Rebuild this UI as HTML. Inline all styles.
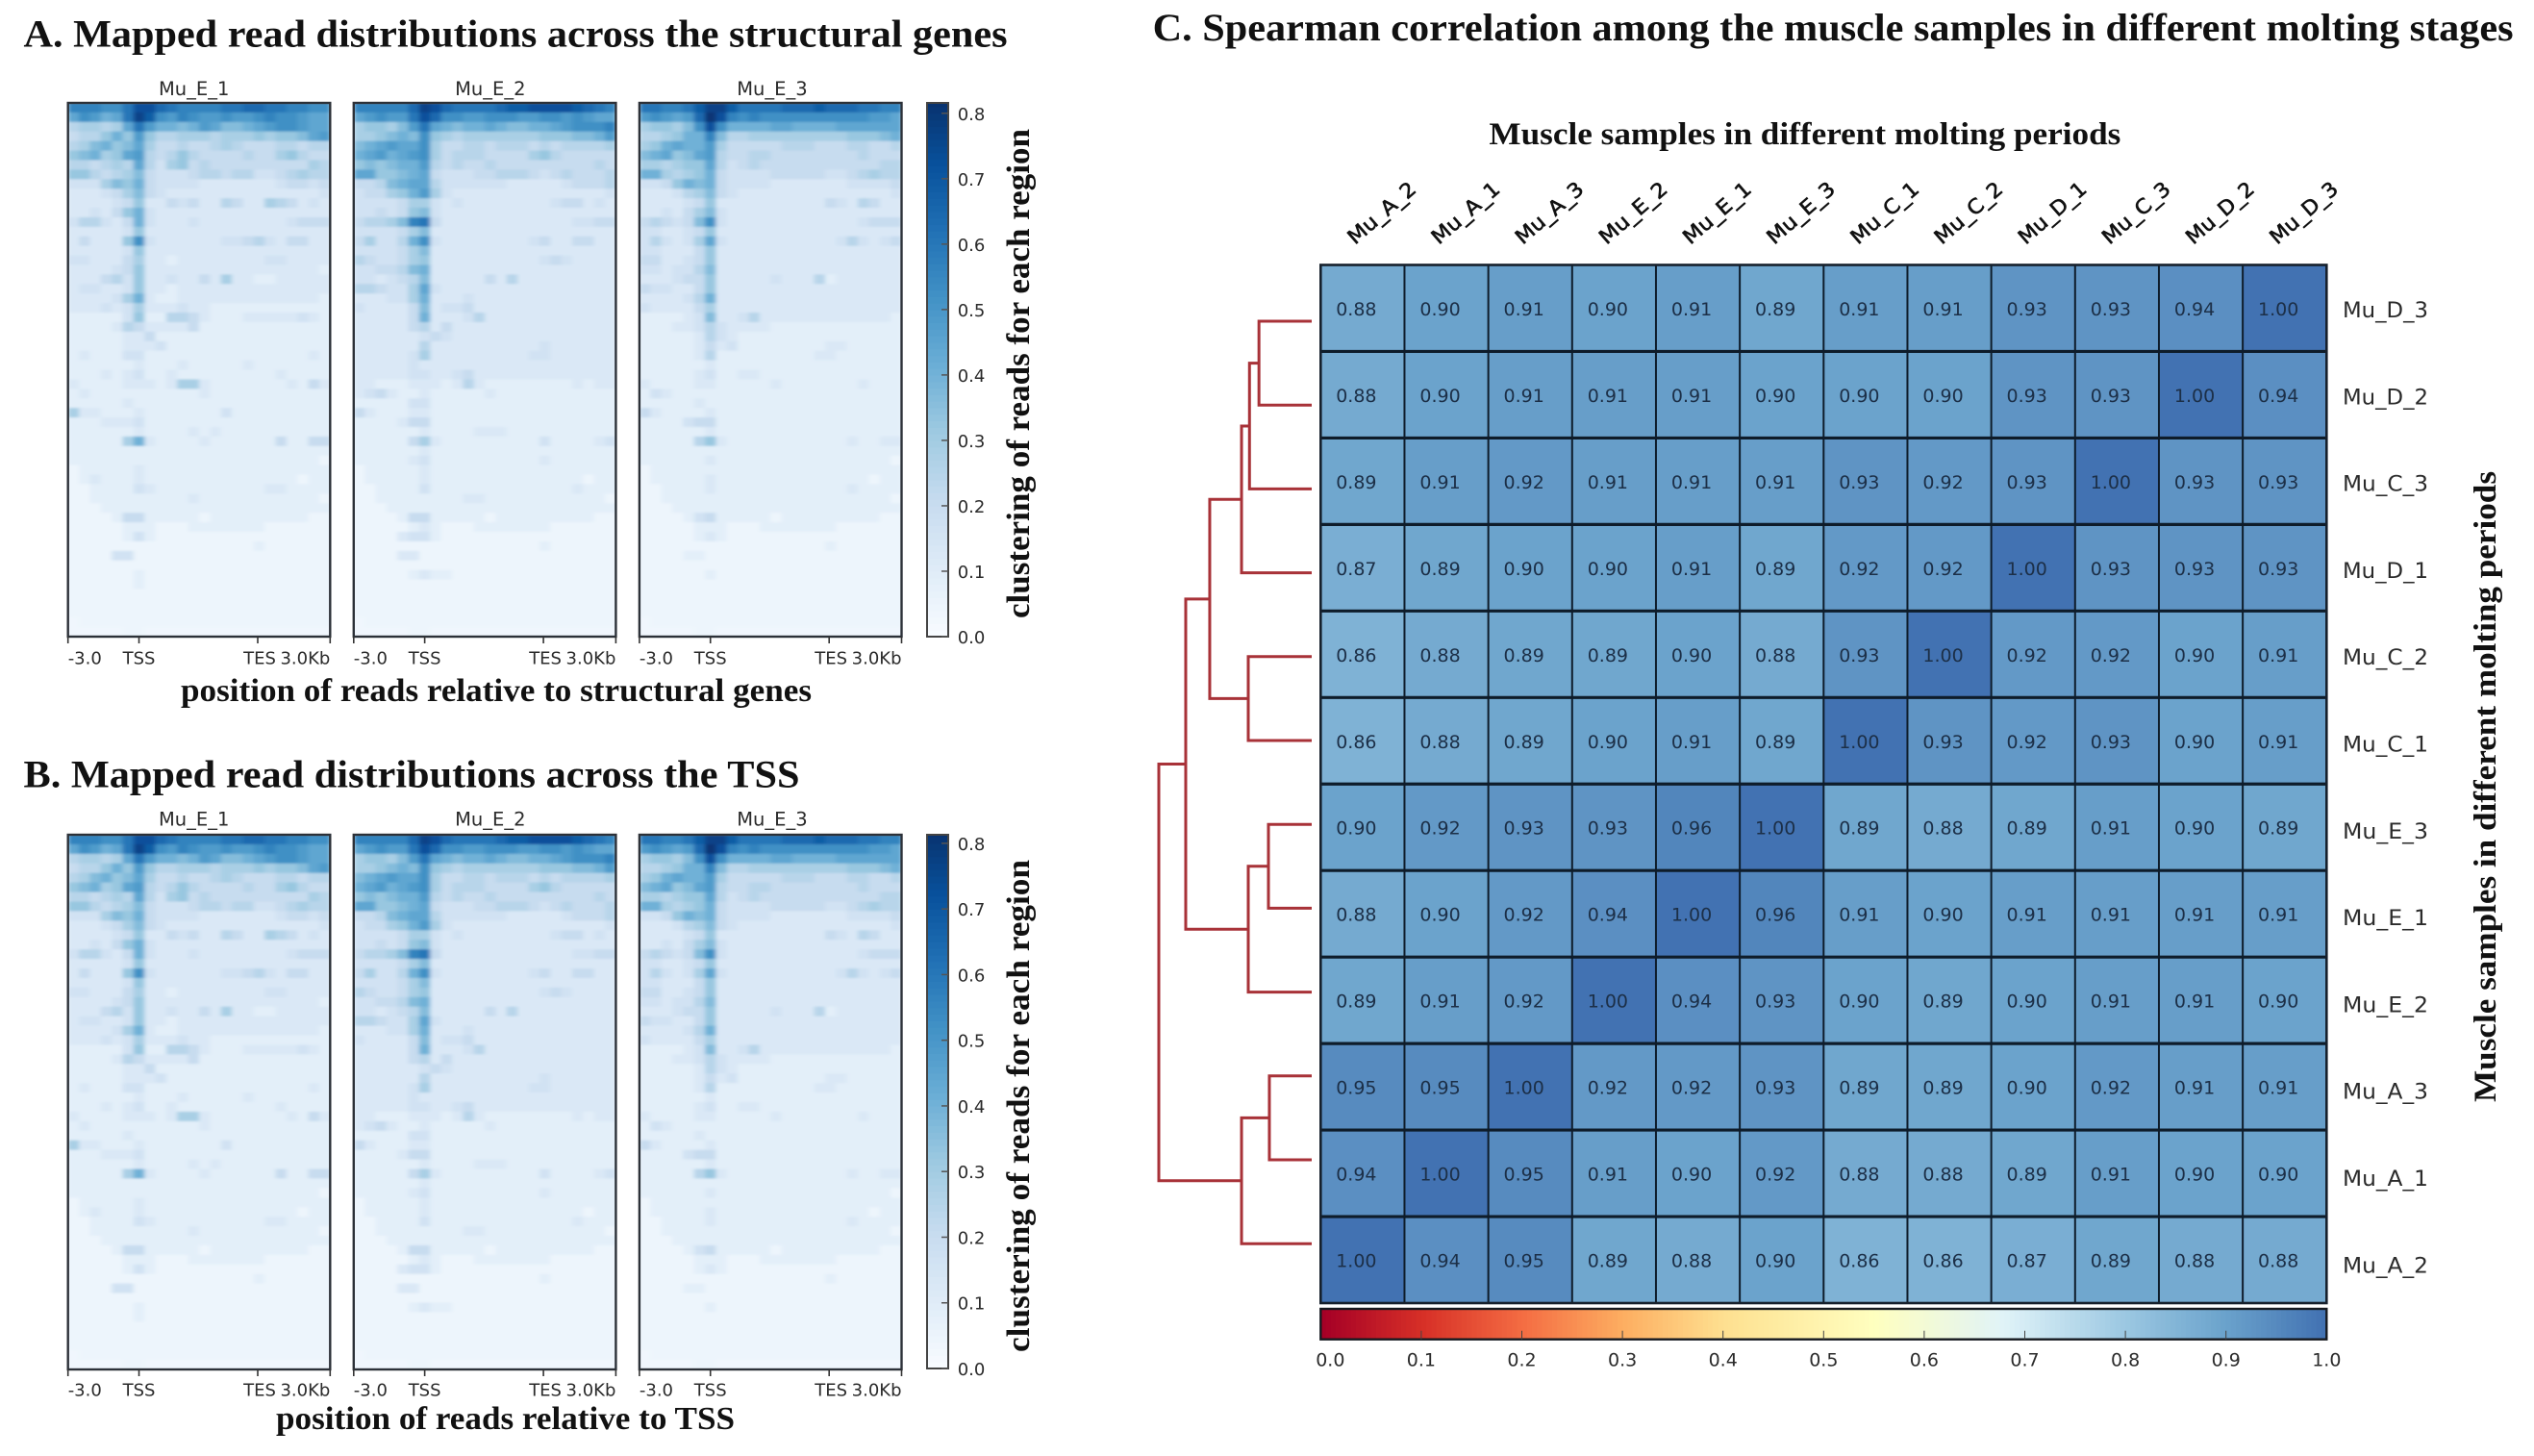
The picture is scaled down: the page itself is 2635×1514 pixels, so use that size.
<!DOCTYPE html>
<html lang="en">
<head>
<meta charset="utf-8">
<title>Mapped read distributions and Spearman correlation</title>
<style>
html,body{margin:0;padding:0;background:#fff;}
svg{display:block;}
.serif{font-family:"Liberation Serif",serif;font-weight:bold;fill:#111;}
.sans{font-family:"DejaVu Sans",sans-serif;fill:#2b2b2b;}
</style>
</head>
<body>
<svg id="fig" xmlns="http://www.w3.org/2000/svg" width="2635" height="1514" viewBox="0 0 2635 1514">
<defs>
<filter id="soft" x="-2%" y="-2%" width="104%" height="104%"><feGaussianBlur stdDeviation="2.5 1"/></filter>
<clipPath id="clip-a1"><rect x="70.7" y="107" width="272.6" height="555"/></clipPath>
<clipPath id="clip-a2"><rect x="367.8" y="107" width="272.6" height="555"/></clipPath>
<clipPath id="clip-a3"><rect x="664.9" y="107" width="272.6" height="555"/></clipPath>
<clipPath id="clip-b1"><rect x="70.7" y="868" width="272.6" height="556"/></clipPath>
<clipPath id="clip-b2"><rect x="367.8" y="868" width="272.6" height="556"/></clipPath>
<clipPath id="clip-b3"><rect x="664.9" y="868" width="272.6" height="556"/></clipPath>
</defs>
<text class="serif" x="24.5" y="48.5" font-size="40" textLength="1023" lengthAdjust="spacingAndGlyphs">A. Mapped read distributions across the structural genes</text>
<text class="serif" x="188" y="729" font-size="34" textLength="656" lengthAdjust="spacingAndGlyphs">position of reads relative to structural genes</text>
<text class="serif" transform="translate(1070,643) rotate(-90)" font-size="34" textLength="509" lengthAdjust="spacingAndGlyphs">clustering of reads for each region</text>
<text class="serif" x="24.5" y="818.7" font-size="40" textLength="807" lengthAdjust="spacingAndGlyphs">B. Mapped read distributions across the TSS</text>
<text class="serif" x="287" y="1486" font-size="34" textLength="477" lengthAdjust="spacingAndGlyphs">position of reads relative to TSS</text>
<text class="serif" transform="translate(1070,1406) rotate(-90)" font-size="34" textLength="512" lengthAdjust="spacingAndGlyphs">clustering of reads for each region</text>
<text class="serif" x="1198.6" y="42" font-size="40" textLength="1415" lengthAdjust="spacingAndGlyphs">C. Spearman correlation among the muscle samples in different molting stages</text>
<text class="serif" x="1548.4" y="150" font-size="33" textLength="657" lengthAdjust="spacingAndGlyphs">Muscle samples in different molting periods</text>
<text class="serif" transform="translate(2595,1146) rotate(-90)" font-size="33" textLength="656" lengthAdjust="spacingAndGlyphs">Muscle samples in different molting periods</text>
<g id="layer"></g>
</svg>
<script>
/* Read-density profile heatmaps: values in units of 0.04, 56 rows x 24 bins (TSS = bin 6) */
var sampleTitles = ['Mu_E_1', 'Mu_E_2', 'Mu_E_3'];
var profileTicks = ['-3.0', 'TSS', 'TES', '3.0Kb'];
var profileTickBins = [0, 6.5, 17.37, 24];
var densityTicks = [0, 0.1, 0.2, 0.3, 0.4, 0.5, 0.6, 0.7, 0.8];
var densityE1 = [
[14,14,14,13,13,15,18,18,16,15,14,14,14,14,15,15,16,16,15,15,14,14,13,13],
[11,13,12,10,11,15,19,17,13,12,14,13,12,12,13,12,12,13,14,13,13,12,11,11],
[6,7,7,6,7,11,15,12,10,10,9,10,12,11,9,9,10,11,12,13,13,12,11,11],
[5,6,6,8,10,8,12,8,6,6,7,7,7,6,7,7,7,8,7,8,8,9,11,12],
[6,7,9,10,8,9,11,7,5,5,6,5,5,6,7,6,5,5,5,6,6,5,6,6],
[8,9,10,7,8,11,12,6,5,6,8,6,5,5,5,5,6,5,5,7,8,6,5,5],
[6,6,5,6,7,6,11,6,4,7,8,5,6,5,5,5,5,5,5,5,5,5,7,6],
[8,8,6,5,6,7,9,5,4,4,4,5,6,6,5,6,6,4,4,5,6,7,6,6],
[4,4,4,7,9,8,10,5,4,4,4,4,3,3,3,3,3,3,3,4,5,5,4,5],
[3,3,3,4,5,7,9,5,4,3,3,3,3,3,3,3,3,3,3,3,3,3,3,4],
[3,3,3,3,4,5,8,3,3,5,4,5,3,3,6,5,3,3,7,6,5,3,4,3],
[3,3,4,3,5,8,10,4,3,3,3,3,3,3,3,3,3,3,3,3,3,3,3,3],
[4,6,6,4,3,5,10,4,3,3,3,4,3,3,3,3,3,3,3,3,4,5,5,5],
[3,3,3,3,3,4,8,3,3,3,3,3,3,3,3,3,3,3,3,3,3,3,3,3],
[3,5,3,3,3,8,13,4,3,3,3,3,3,3,4,4,5,6,4,3,5,5,3,3],
[3,3,3,3,3,4,8,3,3,3,3,3,3,3,3,3,3,3,3,3,3,3,3,3],
[4,4,3,3,3,5,7,3,3,2,3,3,3,3,3,3,3,3,4,4,3,3,3,3],
[3,3,3,3,4,5,8,3,3,3,3,3,3,3,3,3,3,3,3,3,3,3,3,2],
[3,3,3,5,6,4,8,3,3,4,3,3,5,3,7,3,3,2,2,3,3,3,3,3],
[3,4,4,3,3,4,8,3,3,2,3,3,3,3,3,3,3,3,3,3,3,3,3,3],
[3,3,3,3,4,7,10,3,2,2,3,3,3,3,3,3,3,3,3,3,3,3,3,2],
[3,3,3,4,3,4,7,3,3,3,4,3,3,2,2,2,2,2,2,2,2,2,2,2],
[2,2,2,2,2,4,8,2,2,6,6,5,3,2,2,2,3,3,3,3,3,4,3,2],
[2,2,2,2,3,6,5,3,3,3,3,5,2,2,2,2,2,2,2,2,2,2,2,2],
[2,2,2,2,2,3,3,5,2,2,2,2,2,2,2,2,2,2,2,2,2,2,2,2],
[2,2,2,2,2,3,3,3,4,2,2,2,2,2,2,2,2,2,2,2,2,2,2,2],
[2,3,2,2,2,4,4,2,2,2,2,2,2,2,2,2,2,2,2,2,2,2,3,2],
[2,2,2,2,2,2,3,2,2,2,3,2,2,2,2,2,3,2,2,2,2,2,2,2],
[2,2,2,3,2,3,4,2,2,3,2,2,2,2,2,2,2,2,2,3,2,2,2,2],
[3,2,2,2,2,3,3,3,2,3,7,7,3,2,2,2,2,2,2,2,3,2,5,3],
[2,3,2,2,2,2,2,2,2,2,2,2,3,2,2,2,2,2,2,2,2,2,2,2],
[2,2,2,2,2,3,2,2,2,2,2,2,2,2,2,2,2,2,2,2,2,2,2,2],
[7,3,3,2,2,2,3,2,2,2,2,2,2,2,4,2,2,2,2,2,2,2,2,2],
[2,2,2,3,3,3,4,2,2,2,2,2,2,2,2,2,2,2,2,2,2,2,2,2],
[2,2,2,2,2,2,3,2,2,2,2,3,2,3,2,2,2,2,2,2,2,2,2,2],
[2,2,2,2,2,7,10,3,2,2,2,2,3,2,2,2,2,2,2,5,2,2,5,5],
[2,2,2,2,2,2,2,2,2,2,2,2,2,2,2,2,2,2,2,2,2,2,2,2],
[2,2,2,2,2,2,2,2,2,2,2,2,2,2,2,2,2,2,2,2,2,2,2,1],
[1,2,2,2,2,2,3,2,2,2,2,2,2,2,2,2,2,2,2,2,2,2,2,2],
[1,2,3,2,2,2,3,2,2,2,2,2,2,2,2,2,2,2,2,2,2,1,2,2],
[1,1,2,2,2,2,4,3,2,2,2,2,2,2,2,2,2,2,3,3,2,2,2,2],
[1,1,2,2,2,2,2,2,2,2,2,3,2,2,2,2,2,2,2,2,2,2,2,1],
[1,1,1,2,2,2,2,2,2,2,2,2,2,2,2,2,2,2,2,2,2,2,2,2],
[1,1,1,1,2,5,5,2,2,2,2,2,1,2,2,2,2,2,2,2,2,2,1,1],
[1,1,1,1,1,2,2,2,1,1,1,2,2,2,2,2,2,2,1,1,1,1,1,1],
[1,1,1,1,1,2,4,2,1,1,1,1,1,1,1,1,1,1,1,1,1,1,1,1],
[1,1,1,1,1,1,1,1,1,1,1,1,1,1,1,1,1,2,1,1,1,1,1,1],
[1,1,1,1,4,4,1,1,1,1,1,1,1,1,1,1,1,1,1,1,1,1,1,1],
[1,1,1,1,1,1,1,1,1,1,1,1,1,1,1,1,1,1,1,1,1,1,1,1],
[1,1,1,1,1,1,2,1,1,1,1,1,1,1,1,1,1,1,1,1,1,1,1,1],
[1,1,1,1,1,1,2,1,1,1,1,1,1,1,1,1,1,1,1,1,1,1,1,1],
[1,1,1,1,1,1,1,1,1,1,1,1,1,1,1,1,1,1,1,1,1,1,1,1],
[1,1,1,1,1,1,1,1,1,1,1,1,1,1,1,1,1,1,1,1,1,1,1,1],
[1,1,1,1,1,1,1,1,1,1,1,1,1,1,1,1,1,1,1,1,1,1,1,1],
[0,1,1,1,1,1,1,1,1,1,1,1,1,1,1,1,1,1,1,1,1,1,1,1],
[0,0,0,0,0,1,1,0,0,0,0,0,0,0,0,0,0,0,0,0,0,0,0,0]
];
var densityE2 = [
[14,14,14,14,14,16,19,18,16,15,15,15,15,16,17,17,18,18,18,18,17,16,15,14],
[11,12,13,12,12,15,18,16,13,13,12,12,13,13,13,12,12,13,13,12,13,12,11,11],
[7,8,8,7,9,12,15,11,10,9,10,10,11,10,9,9,10,10,11,12,13,13,13,14],
[7,7,8,9,10,9,13,8,7,6,7,7,7,7,7,7,7,8,8,8,9,9,10,12],
[9,10,11,12,11,11,13,7,5,5,6,6,5,6,6,6,5,6,5,6,6,6,6,7],
[10,11,12,10,11,12,13,7,5,6,6,6,5,5,5,5,7,8,6,5,5,5,5,5],
[8,9,8,9,10,10,12,6,5,6,5,5,6,5,5,5,5,5,5,5,5,5,6,5],
[11,11,8,8,9,10,11,5,4,4,4,5,5,6,6,6,5,4,5,6,5,5,5,6],
[5,5,6,9,10,11,11,6,4,4,4,4,4,4,3,3,3,3,3,4,5,5,5,6],
[4,5,5,7,8,10,12,7,4,3,3,3,3,3,3,3,3,3,3,3,3,3,3,4],
[4,4,4,4,5,7,7,4,3,4,3,3,3,3,3,3,3,3,4,5,5,3,4,3],
[4,4,5,4,5,8,9,4,3,3,3,3,3,3,3,3,3,3,3,3,3,3,3,3],
[5,6,6,7,9,14,15,5,3,3,3,3,3,3,3,3,3,3,3,3,4,4,5,5],
[4,4,4,4,5,7,9,3,3,3,3,3,3,3,3,3,3,3,3,3,3,3,3,3],
[5,7,4,4,6,10,13,4,3,3,3,3,3,3,3,3,4,5,3,3,5,5,3,3],
[4,4,4,4,5,7,9,3,3,3,3,3,3,3,3,3,3,3,3,3,3,3,3,3],
[6,5,4,4,5,7,8,3,3,3,3,3,3,3,3,3,3,4,5,4,3,3,3,3],
[4,4,5,5,6,9,10,3,3,3,3,3,3,3,3,3,3,3,3,3,3,3,3,3],
[4,4,3,4,5,6,9,3,3,3,3,3,5,3,6,3,3,3,3,3,3,3,3,3],
[6,6,5,4,4,7,11,4,3,3,3,3,3,3,3,3,3,3,3,3,3,3,3,3],
[3,3,3,4,4,7,10,3,3,3,4,3,3,3,3,3,3,3,3,3,3,3,3,3],
[4,3,3,3,3,5,9,3,4,4,5,3,3,3,3,3,3,3,3,3,3,3,3,3],
[3,3,3,3,3,5,10,3,3,3,4,6,3,3,3,3,3,3,3,3,3,3,3,3],
[3,3,3,3,3,5,6,3,5,3,3,3,3,3,3,3,3,3,3,3,3,3,3,3],
[3,3,3,3,3,3,4,5,4,3,3,3,3,3,3,3,3,3,3,3,3,3,3,3],
[3,3,3,3,3,3,6,3,3,3,3,3,3,3,3,3,3,4,3,3,3,3,3,3],
[3,3,3,3,3,4,7,3,3,3,3,3,3,3,3,3,4,4,3,3,3,3,3,3],
[3,3,3,3,3,4,3,3,3,3,3,3,3,3,3,3,3,3,3,3,3,3,3,3],
[3,3,3,3,3,4,4,3,3,4,5,3,3,3,3,3,3,3,3,3,3,3,3,3],
[3,3,2,2,2,3,3,3,2,3,6,3,2,2,2,2,2,2,2,2,3,2,3,3],
[3,4,5,3,2,2,3,2,2,2,2,2,3,2,2,2,2,2,2,2,2,2,2,2],
[2,2,2,2,2,4,4,2,2,2,2,2,2,2,2,2,2,2,2,2,2,2,2,2],
[5,3,2,2,2,3,3,2,2,2,2,2,2,2,2,2,2,2,2,2,2,2,2,2],
[2,2,2,2,3,5,5,2,2,2,2,2,2,2,2,2,2,2,2,2,2,2,2,2],
[2,2,2,2,2,2,3,2,2,2,2,3,3,3,2,2,2,2,2,2,2,2,2,2],
[2,2,2,2,2,5,7,3,2,2,2,2,2,2,2,2,2,4,2,2,2,2,3,4],
[2,2,2,2,2,2,3,2,2,2,2,2,2,2,2,2,2,2,2,2,2,2,2,2],
[2,2,2,2,2,3,4,2,2,2,2,2,2,2,2,2,2,3,2,2,2,2,2,2],
[1,2,2,2,2,2,3,2,2,2,2,2,2,2,2,2,2,2,2,2,2,2,2,2],
[1,2,2,2,2,2,3,2,2,2,2,2,2,2,2,2,2,2,2,2,2,1,2,2],
[1,1,2,2,2,2,4,2,2,2,2,2,2,2,2,2,2,2,2,2,3,2,2,2],
[1,1,2,2,2,2,2,2,2,2,3,3,2,2,2,2,2,2,2,2,2,2,2,1],
[1,1,1,2,2,2,2,2,2,2,2,2,2,2,2,2,2,2,2,2,2,2,2,2],
[1,1,1,1,2,5,5,2,2,2,2,2,1,2,2,2,2,2,2,2,2,2,1,1],
[1,1,1,1,1,2,3,2,1,1,1,2,2,2,2,2,2,2,1,1,1,1,1,1],
[1,1,1,1,3,4,4,2,1,1,1,1,1,1,1,1,1,1,1,1,1,1,1,1],
[1,1,1,1,1,1,1,1,1,1,1,1,1,1,1,1,1,2,1,1,1,1,1,1],
[1,1,1,1,3,3,1,1,1,1,1,1,1,1,1,1,1,1,1,1,1,1,1,1],
[1,1,1,1,1,1,1,1,1,1,1,1,1,1,1,1,1,1,1,1,1,1,1,1],
[1,1,1,1,1,2,3,2,2,1,1,1,1,1,1,1,1,1,1,1,1,1,1,1],
[1,1,1,1,1,1,1,1,1,1,1,1,1,1,1,1,1,1,1,1,1,1,1,1],
[1,1,1,1,1,1,1,1,1,1,1,1,1,1,1,1,1,1,1,1,1,1,1,1],
[1,1,1,1,1,1,1,1,1,1,1,1,1,1,1,1,1,1,1,1,1,1,1,1],
[1,1,1,1,1,1,1,1,1,1,1,1,1,1,1,1,1,1,1,1,1,1,1,1],
[0,1,1,1,1,1,1,1,1,1,1,1,1,1,1,1,1,1,1,1,1,1,1,1],
[0,0,0,0,0,1,1,0,0,0,0,0,0,0,0,0,0,0,0,0,0,0,0,0]
];
var densityE3 = [
[15,15,14,14,15,17,19,19,17,15,15,15,15,16,16,16,17,16,16,16,15,15,14,14],
[12,13,12,11,12,16,20,18,14,13,14,13,13,13,13,13,13,13,13,13,13,12,12,11],
[7,8,8,7,9,13,18,13,10,10,10,10,11,11,10,10,10,10,11,11,11,11,11,11],
[6,6,7,8,10,10,14,9,6,6,7,7,7,7,7,7,7,7,7,8,8,8,9,10],
[7,8,10,11,10,10,12,7,5,5,5,5,5,6,6,6,5,5,5,6,6,5,5,6],
[9,10,11,8,9,11,12,6,5,5,6,6,5,5,5,5,5,5,5,5,6,5,5,5],
[7,7,6,7,8,8,11,6,4,5,6,5,5,5,5,5,5,5,5,5,5,5,6,6],
[10,10,7,6,7,8,10,5,4,4,4,4,5,5,5,5,5,4,4,5,6,7,6,6],
[4,4,5,8,10,9,10,5,4,4,4,4,3,3,3,3,3,3,3,4,4,4,4,5],
[3,3,3,4,6,7,9,5,4,3,3,3,3,3,3,3,3,3,3,3,3,3,3,4],
[3,3,3,3,4,5,8,3,3,3,3,3,3,3,3,3,3,5,4,3,6,5,3,3],
[3,3,4,3,5,7,9,4,3,3,3,3,3,3,3,3,3,3,3,3,3,3,3,3],
[5,6,5,4,5,9,13,4,3,3,3,3,3,3,3,3,3,3,3,3,4,5,5,5],
[4,4,3,3,4,5,8,3,3,3,3,3,3,3,3,3,3,3,3,3,3,3,3,3],
[4,6,4,3,4,7,11,4,3,3,3,3,3,3,3,3,3,3,4,6,4,3,4,5],
[4,4,3,3,3,5,8,3,3,3,3,3,3,3,3,3,3,3,3,3,3,3,3,3],
[5,5,3,3,4,5,8,3,3,3,3,3,3,3,3,3,3,3,3,3,3,3,3,3],
[4,4,3,4,4,6,9,3,3,3,3,3,3,3,3,3,3,3,3,3,3,3,3,3],
[3,3,3,4,5,5,8,3,3,3,3,3,4,3,3,3,6,2,3,3,3,3,3,3],
[5,4,4,3,3,5,8,3,3,3,3,3,3,3,3,3,3,3,3,3,3,3,3,3],
[3,3,3,3,4,6,10,3,3,3,3,3,3,3,3,3,3,3,3,3,3,3,3,3],
[4,3,3,3,3,5,7,3,3,3,3,3,3,3,3,3,3,3,3,3,3,3,3,3],
[2,2,2,2,3,4,9,3,3,4,6,3,3,3,3,3,3,3,3,3,3,3,3,2],
[2,2,2,3,3,4,6,4,3,3,3,3,2,2,2,2,2,2,2,2,2,2,2,2],
[2,2,2,2,2,3,6,4,3,2,2,2,2,2,2,2,2,2,2,2,2,2,2,2],
[2,2,2,2,2,3,5,3,4,2,2,2,2,2,2,2,2,3,3,2,2,2,2,2],
[2,2,2,2,2,3,6,2,2,2,2,2,2,2,2,2,3,3,2,2,2,2,2,2],
[2,2,2,2,2,2,3,2,2,2,2,2,2,2,2,2,2,2,2,2,2,2,2,2],
[2,2,2,2,2,3,4,2,2,3,3,2,2,2,2,2,2,2,2,2,2,2,2,2],
[3,2,2,2,2,3,3,2,2,2,2,2,3,2,2,2,2,2,2,2,3,2,2,2],
[2,4,3,2,2,2,2,2,2,2,2,2,2,2,2,2,2,2,2,2,2,2,2,2],
[2,2,2,2,2,3,2,2,2,2,2,2,2,2,2,2,2,2,2,2,2,2,2,2],
[5,3,2,2,2,2,3,2,2,2,2,2,2,2,2,2,2,2,2,2,2,2,2,2],
[2,2,2,2,4,5,5,2,2,2,2,2,2,2,2,2,2,2,2,2,2,2,2,2],
[2,2,2,2,2,2,3,2,2,2,2,2,2,2,2,2,2,2,2,2,2,2,2,2],
[2,2,2,2,2,6,8,3,2,2,2,2,2,2,2,2,2,2,2,3,2,2,3,3],
[2,2,2,2,2,2,2,2,2,2,2,2,2,2,2,2,2,2,2,2,2,2,2,2],
[2,2,2,2,2,2,3,2,2,2,2,2,2,2,2,2,2,2,2,2,2,2,2,1],
[1,2,2,2,2,2,2,2,2,2,2,2,2,2,2,2,2,2,2,2,2,2,2,2],
[1,2,2,2,2,2,3,2,2,2,2,2,2,2,2,2,2,2,2,2,2,1,2,2],
[1,1,2,2,2,2,3,2,2,2,2,2,2,2,2,2,2,2,2,3,2,2,2,2],
[1,1,2,2,2,2,2,2,2,2,2,2,2,2,2,2,2,2,2,2,2,2,2,1],
[1,1,1,2,2,2,2,2,2,2,2,2,2,2,2,2,2,2,2,2,2,2,2,2],
[1,1,1,1,2,4,5,2,2,2,2,2,1,2,2,2,2,2,2,2,2,2,1,1],
[1,1,1,1,1,2,2,2,1,1,1,2,2,2,2,2,2,2,1,1,1,1,1,1],
[1,1,1,1,1,2,3,2,1,1,1,1,1,1,1,1,1,1,1,1,1,1,1,1],
[1,1,1,1,1,1,1,1,1,1,1,1,1,1,1,1,1,2,1,1,1,1,1,1],
[1,1,1,1,2,2,1,1,1,1,1,1,1,1,1,1,1,1,1,1,1,1,1,1],
[1,1,1,1,1,1,1,1,1,1,1,1,1,1,1,1,1,1,1,1,1,1,1,1],
[1,1,1,1,1,1,2,1,1,1,1,1,1,1,1,1,1,1,1,1,1,1,1,1],
[1,1,1,1,1,1,1,1,1,1,1,1,1,1,1,1,1,1,1,1,1,1,1,1],
[1,1,1,1,1,1,1,1,1,1,1,1,1,1,1,1,1,1,1,1,1,1,1,1],
[1,1,1,1,1,1,1,1,1,1,1,1,1,1,1,1,1,1,1,1,1,1,1,1],
[1,1,1,1,1,1,1,1,1,1,1,1,1,1,1,1,1,1,1,1,1,1,1,1],
[0,1,1,1,1,1,1,1,1,1,1,1,1,1,1,1,1,1,1,1,1,1,1,1],
[0,0,0,0,0,1,1,0,0,0,0,0,0,0,0,0,0,0,0,0,0,0,0,0]
];

/* Spearman correlation matrix */
var columnLabels = ['Mu_A_2','Mu_A_1','Mu_A_3','Mu_E_2','Mu_E_1','Mu_E_3','Mu_C_1','Mu_C_2','Mu_D_1','Mu_C_3','Mu_D_2','Mu_D_3'];
var rowLabels = ['Mu_D_3','Mu_D_2','Mu_C_3','Mu_D_1','Mu_C_2','Mu_C_1','Mu_E_3','Mu_E_1','Mu_E_2','Mu_A_3','Mu_A_1','Mu_A_2'];
var correlation = [
[0.88,0.90,0.91,0.90,0.91,0.89,0.91,0.91,0.93,0.93,0.94,1.00],
[0.88,0.90,0.91,0.91,0.91,0.90,0.90,0.90,0.93,0.93,1.00,0.94],
[0.89,0.91,0.92,0.91,0.91,0.91,0.93,0.92,0.93,1.00,0.93,0.93],
[0.87,0.89,0.90,0.90,0.91,0.89,0.92,0.92,1.00,0.93,0.93,0.93],
[0.86,0.88,0.89,0.89,0.90,0.88,0.93,1.00,0.92,0.92,0.90,0.91],
[0.86,0.88,0.89,0.90,0.91,0.89,1.00,0.93,0.92,0.93,0.90,0.91],
[0.90,0.92,0.93,0.93,0.96,1.00,0.89,0.88,0.89,0.91,0.90,0.89],
[0.88,0.90,0.92,0.94,1.00,0.96,0.91,0.90,0.91,0.91,0.91,0.91],
[0.89,0.91,0.92,1.00,0.94,0.93,0.90,0.89,0.90,0.91,0.91,0.90],
[0.95,0.95,1.00,0.92,0.92,0.93,0.89,0.89,0.90,0.92,0.91,0.91],
[0.94,1.00,0.95,0.91,0.90,0.92,0.88,0.88,0.89,0.91,0.90,0.90],
[1.00,0.94,0.95,0.89,0.88,0.90,0.86,0.86,0.87,0.89,0.88,0.88]
];
var correlationTicks = [0,0.1,0.2,0.3,0.4,0.5,0.6,0.7,0.8,0.9,1.0];

/* Dendrogram merges: child a, child b (leaf row index, or 12+ for an earlier merge), distance */
var mergeChildA = [0,12,13,4,14,6,17,9,19,16,21];
var mergeChildB = [1,2,3,5,15,7,8,10,11,18,20];
var mergeDistance = [0.345,0.407,0.459,0.415,0.667,0.283,0.415,0.277,0.459,0.824,1.0];

/* ---- scales and helpers ---- */
var NS = 'http://www.w3.org/2000/svg';
var layer = document.getElementById('layer');
var blues = [[247,251,255],[222,235,247],[198,219,239],[158,202,225],[107,174,214],[66,146,198],[33,113,181],[8,81,156],[8,48,107]];
var rdylbu = [[0,[165,0,38]],[0.1,[215,48,39]],[0.2,[244,109,67]],[0.3,[253,174,97]],[0.4,[254,224,144]],[0.55,[255,255,191]],[0.68,[224,243,248]],[0.8,[156,200,226]],[0.9,[107,163,204]],[1,[66,114,178]]];
function rgb(c){return 'rgb('+Math.round(c[0])+','+Math.round(c[1])+','+Math.round(c[2])+')';}
function mix(a,b,t){return [a[0]+(b[0]-a[0])*t,a[1]+(b[1]-a[1])*t,a[2]+(b[2]-a[2])*t];}
function bluesColor(v){
  var t=Math.max(0,Math.min(1,v/0.82))*(blues.length-1);
  var i=Math.min(blues.length-2,Math.floor(t));
  return rgb(mix(blues[i],blues[i+1],t-i));
}
function corrColor(v){
  for(var i=0;i<rdylbu.length-1;i++){
    if(v<=rdylbu[i+1][0]){
      return rgb(mix(rdylbu[i][1],rdylbu[i+1][1],(v-rdylbu[i][0])/(rdylbu[i+1][0]-rdylbu[i][0])));
    }
  }
  return rgb(rdylbu[rdylbu.length-1][1]);
}
function mk(tag,attrs,parent){
  var e=document.createElementNS(NS,tag);
  for(var k in attrs){e.setAttribute(k,attrs[k]);}
  (parent||layer).appendChild(e);
  return e;
}

/* ---- profile heatmaps ---- */
var panelXs = [70.7,367.8,664.9];
var panelW = 272.6;
var titleOffsets = [131,142,138];
var sets = [
 {key:'a',top:107,bottom:662,titleY:99,tickY:690.6,cbTop:117.8,cbZero:662},
 {key:'b',top:868,bottom:1424,titleY:858.6,tickY:1451.5,cbTop:876.9,cbZero:1423}
];
var matrices = [densityE1,densityE2,densityE3];

sets.forEach(function(set){
  var group=mk('g',{});
  
  
  var h=set.bottom-set.top;
  matrices.forEach(function(matrix,p){
    var x0=panelXs[p];
    var rowH=h/matrix.length;
    var clip=mk('g',{'clip-path':'url(#clip-'+set.key+(p+1)+')'},group);
    
    
    mk('rect',{x:x0,y:set.top,width:panelW,height:h,fill:bluesColor(0.03)},clip);
    var cells=mk('g',{filter:'url(#soft)'},clip);
    matrix.forEach(function(row,r){
      var colW=panelW/row.length;
      row.forEach(function(v,c){
        var cell=mk('rect',{x:x0+c*colW,y:set.top+r*rowH,width:colW+0.5,height:rowH+0.5,fill:bluesColor(Math.max(v*0.04,0.03))},cells);
        
        
      });
    });
    var frame=mk('rect',{x:x0,y:set.top,width:panelW,height:h,fill:'none',stroke:'#2c3138','stroke-width':2.4},group);
    
    
    var title=mk('text',{x:x0+titleOffsets[p],y:set.titleY,'text-anchor':'middle','font-size':19.5,'class':'sans'},group);
    title.textContent=sampleTitles[p];
    
    
    profileTicks.forEach(function(label,i){
      var tx=x0+profileTickBins[i]/24*panelW;
      var tick=mk('line',{x1:tx,x2:tx,y1:set.bottom,y2:set.bottom+7,stroke:'#333','stroke-width':1.6},group);
      
      
      var anchor=i===0?'start':(i===3?'end':'middle');
      var t=mk('text',{x:tx+(i===2?2:0),y:set.tickY,'text-anchor':anchor,'font-size':18,'class':'sans'},group);
      t.textContent=label;
      
      
    });
  });
  /* colour bar */
  var cbX=964,cbW=22;
  var perUnit=(set.cbZero-set.cbTop)/0.8;
  var cb=mk('g',{},group);
  
  
  for(var i=0;i<84;i++){
    var v=i/100;
    var yTop=set.cbZero-(v+0.01)*perUnit;
    if(yTop<set.top){yTop=set.top;}
    mk('rect',{x:cbX,y:yTop,width:cbW,height:set.cbZero-v*perUnit-yTop+0.6,fill:bluesColor(v)},cb);
  }
  mk('rect',{x:cbX,y:set.top,width:cbW,height:set.cbZero-set.top,fill:'none',stroke:'#444','stroke-width':2},cb);
  densityTicks.forEach(function(v){
    var ty=set.cbZero-v*perUnit;
    mk('line',{x1:cbX+cbW-7,x2:cbX+cbW,y1:ty,y2:ty,stroke:'#555','stroke-width':1.5},cb);
    var t=mk('text',{x:995.7,y:ty+7,'font-size':18,'class':'sans'},cb);
    t.textContent=v.toFixed(1);
    
    
  });
});

/* ---- correlation heatmap ---- */
var hmLeft=1373.3,hmRight=2419.3,hmTop=275.5,hmBottom=1355;
var colW=(hmRight-hmLeft)/columnLabels.length;
var rowH=(hmBottom-hmTop)/rowLabels.length;
function colX(c){return hmLeft+c*colW;}
function rowY(r){return hmTop+r*rowH;}
var corrG=mk('g',{});


correlation.forEach(function(row,r){
  row.forEach(function(v,c){
    var cell=mk('rect',{x:colX(c),y:rowY(r),width:colW+0.3,height:rowH+0.3,fill:corrColor(v)},corrG);
    
    
    var t=mk('text',{x:colX(c)+colW/2-6.5,y:rowY(r)+rowH/2+7.5,'text-anchor':'middle','font-size':19,'class':'sans',style:'fill:#1c2f47'},corrG);
    t.textContent=v.toFixed(2);
    
    
  });
});
rowLabels.forEach(function(_,r){
  if(r===0){return;}
  var gridH=mk('line',{x1:hmLeft,x2:hmRight,y1:rowY(r),y2:rowY(r),stroke:'#0e1c2a','stroke-width':3.2},corrG);
  
  
});
columnLabels.forEach(function(_,c){
  if(c===0){return;}
  var gridV=mk('line',{x1:colX(c),x2:colX(c),y1:hmTop,y2:hmBottom,stroke:'#0e1c2a','stroke-width':2},corrG);
  
  
});
var corrFrame=mk('rect',{x:hmLeft,y:hmTop,width:hmRight-hmLeft,height:hmBottom-hmTop,fill:'none',stroke:'#16202c','stroke-width':2.6},corrG);


columnLabels.forEach(function(label,c){
  var t=mk('text',{transform:'translate('+(1409+c*colW)+',255) rotate(-41)','font-size':21,'class':'sans',stroke:'#111','stroke-width':0.6,textLength:86,lengthAdjust:'spacingAndGlyphs',style:'fill:#111'});
  t.textContent=label;
  
  
});
rowLabels.forEach(function(label,r){
  var t=mk('text',{x:2436,y:330+90.3*r,'font-size':22,'class':'sans',textLength:89,lengthAdjust:'spacingAndGlyphs'});
  t.textContent=label;
  
  
});

/* correlation colour bar */
var cbarG=mk('g',{});


var cbarTop=1361,cbarBottom=1392.7;
var cbarW=hmRight-hmLeft;
for(var s=0;s<200;s++){
  mk('rect',{x:hmLeft+s/200*cbarW,y:cbarTop,width:cbarW/200+0.6,height:cbarBottom-cbarTop,fill:corrColor(s/199)},cbarG);
}
mk('rect',{x:hmLeft,y:cbarTop,width:cbarW,height:cbarBottom-cbarTop,fill:'none',stroke:'#161a20','stroke-width':2.4},cbarG);
correlationTicks.forEach(function(v,i){
  var tx=hmLeft+v*cbarW;
  if(i>0&&i<correlationTicks.length-1){
    mk('line',{x1:tx,x2:tx,y1:cbarBottom-9,y2:cbarBottom,stroke:'#444','stroke-width':1},cbarG);
  }
  var t=mk('text',{x:i===0?tx+10:tx,y:1420.5,'text-anchor':'middle','font-size':19,'class':'sans'},cbarG);
  t.textContent=v.toFixed(1);
  
  
});

/* dendrogram */
function distX(d){return 1364-d*159;}
function leafY(i){return 334+87.2*i;}
var dendroG=mk('g',{fill:'none',stroke:'#a83238','stroke-width':3});


var nodes=rowLabels.map(function(_,i){return {x:distX(0),y:leafY(i)};});
mergeDistance.forEach(function(d,m){
  var a=nodes[mergeChildA[m]],b=nodes[mergeChildB[m]];
  var mx=distX(d);
  var path=mk('path',{d:'M'+a.x+' '+a.y+'H'+mx+'V'+b.y+'H'+b.x},dendroG);
  
  
  nodes.push({x:mx,y:(a.y+b.y)/2});
});
</script>
</body>
</html>
